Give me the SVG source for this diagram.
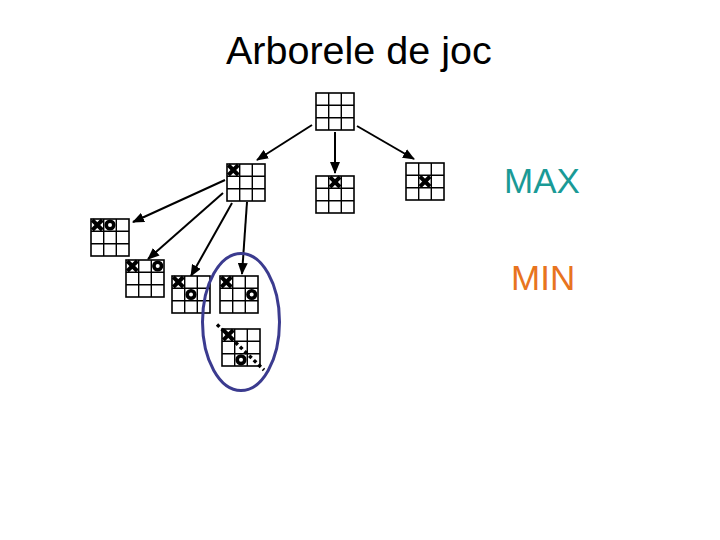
<svg xmlns="http://www.w3.org/2000/svg" xmlns:xlink="http://www.w3.org/1999/xlink" width="720" height="540" viewBox="0 0 720 540">
<style>
.grid rect{fill:#fff;stroke:#000;stroke-width:1.6}
.grid line{stroke:#000;stroke-width:1.4}
.xm{stroke:#000;stroke-width:4;stroke-linecap:square}
.om{fill:none;stroke:#000;stroke-width:3.6}
.arr{stroke:#000;stroke-width:2;fill:none;marker-end:url(#ah)}
.title{font-family:"Liberation Sans",Arial,sans-serif;font-size:39.5px;fill:#000}
.lbl{font-family:"Liberation Sans",Arial,sans-serif;font-size:35px}
.dots{stroke:#000;stroke-width:3.4;stroke-dasharray:3.4 3;fill:none}
</style>
<defs>
<marker id="ah" markerUnits="userSpaceOnUse" markerWidth="12" markerHeight="10" viewBox="0 0 12 10" refX="11" refY="5" orient="auto">
<path d="M0,0 L12,5 L0,10 Z" fill="#000"/>
</marker>
<g id="grid" class="grid">
<rect x="0" y="0" width="38" height="37"/>
<line x1="12.7" y1="0" x2="12.7" y2="37"/>
<line x1="25.3" y1="0" x2="25.3" y2="37"/>
<line x1="0" y1="12.3" x2="38" y2="12.3"/>
<line x1="0" y1="24.7" x2="38" y2="24.7"/>
</g>
<g id="xm">
<line class="xm" x1="-3.6" y1="-3.6" x2="3.6" y2="3.6"/>
<line class="xm" x1="-3.6" y1="3.6" x2="3.6" y2="-3.6"/>
</g>
<g id="om"><circle class="om" cx="0" cy="0" r="3.8"/></g>
</defs>
<rect width="720" height="540" fill="#fff"/>
<text class="title" x="226" y="64">Arborele de joc</text>
<text class="lbl" x="504" y="193" fill="#1a9a96">MAX</text>
<text class="lbl" x="511" y="290" fill="#e8741e">MIN</text>

<g id="connectors">
<line class="arr" x1="312" y1="125" x2="257" y2="160"/>
<line class="arr" x1="335" y1="132" x2="335" y2="173"/>
<line class="arr" x1="357" y1="126" x2="414" y2="159"/>
<line class="arr" x1="225" y1="180" x2="133" y2="222"/>
<line class="arr" x1="223" y1="193" x2="148" y2="259"/>
<line class="arr" x1="232" y1="203" x2="191" y2="276"/>
<line class="arr" x1="247" y1="202" x2="242" y2="274"/>
</g>

<g id="root"><use xlink:href="#grid" x="316" y="93"/></g>
<g id="max-mid"><use xlink:href="#grid" x="316" y="176"/><use xlink:href="#xm" x="335" y="182"/></g>
<g id="max-right"><use xlink:href="#grid" x="406" y="163"/><use xlink:href="#xm" x="425" y="181.5"/></g>
<g id="max-left"><use xlink:href="#grid" x="227" y="164"/><use xlink:href="#xm" x="233.3" y="170"/></g>
<g id="min-a"><use xlink:href="#grid" x="91" y="219"/><use xlink:href="#xm" x="97.3" y="225"/><use xlink:href="#om" x="110" y="225"/></g>
<g id="min-b"><use xlink:href="#grid" x="126" y="260"/><use xlink:href="#xm" x="132.3" y="266"/><use xlink:href="#om" x="157.7" y="266"/></g>
<g id="min-c"><use xlink:href="#grid" x="172" y="276"/><use xlink:href="#xm" x="178.3" y="282"/><use xlink:href="#om" x="191" y="294.5"/></g>
<g id="min-d"><use xlink:href="#grid" x="220" y="276"/><use xlink:href="#xm" x="226.3" y="282"/><use xlink:href="#om" x="251.7" y="294.5"/></g>
<g id="leaf-e"><use xlink:href="#grid" x="222" y="329"/><use xlink:href="#xm" x="228.3" y="335"/><use xlink:href="#om" x="241" y="359.8"/>
<line class="dots" x1="217" y1="324.5" x2="264" y2="370"/></g>
<g id="highlight"><ellipse cx="241" cy="322" rx="38.5" ry="68.5" fill="none" stroke="#3b3b8f" stroke-width="3"/></g>
</svg>
